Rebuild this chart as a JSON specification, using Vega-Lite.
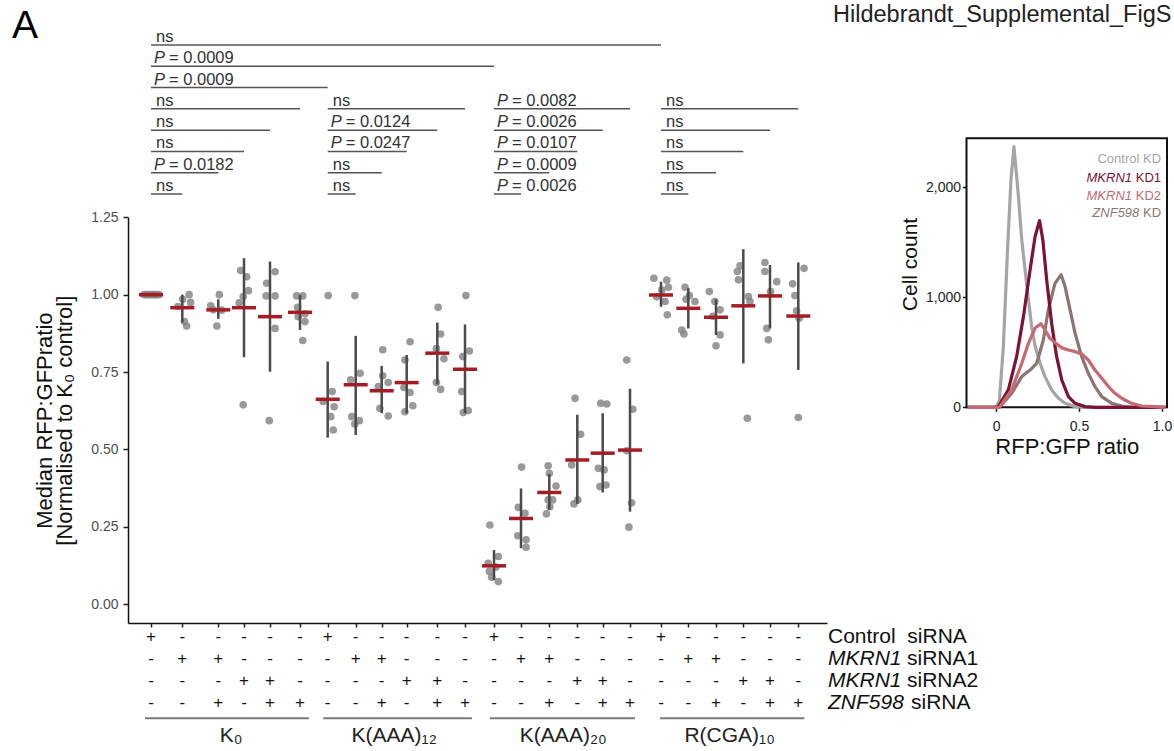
{
 "$schema": "https://vega.github.io/schema/vega-lite/v6.json",
 "width": 1046,
 "height": 623,
 "autosize": {"type": "none"},
 "padding": {"left": 128, "top": 0, "right": 0, "bottom": 128},
 "background": "white",
 "config": {"view": {"stroke": null}, "font": "Liberation Sans"},
 "datasets": {
  "cols": [
   {"x": 1, "mean": 1.0, "lo": 1.0, "hi": 1.0, "ctrl": "+", "m1": "-", "m2": "-", "znf": "-"},
   {"x": 2, "mean": 0.958, "lo": 0.910, "hi": 1.0, "ctrl": "-", "m1": "+", "m2": "-", "znf": "-"},
   {"x": 3, "mean": 0.951, "lo": 0.922, "hi": 0.985, "ctrl": "-", "m1": "+", "m2": "-", "znf": "+"},
   {"x": 4, "mean": 0.958, "lo": 0.798, "hi": 1.118, "ctrl": "-", "m1": "-", "m2": "+", "znf": "-"},
   {"x": 5, "mean": 0.929, "lo": 0.751, "hi": 1.107, "ctrl": "-", "m1": "-", "m2": "+", "znf": "+"},
   {"x": 6, "mean": 0.943, "lo": 0.886, "hi": 0.999, "ctrl": "-", "m1": "-", "m2": "-", "znf": "+"},
   {"x": 7, "mean": 0.662, "lo": 0.538, "hi": 0.784, "ctrl": "+", "m1": "-", "m2": "-", "znf": "-"},
   {"x": 8, "mean": 0.709, "lo": 0.547, "hi": 0.867, "ctrl": "-", "m1": "+", "m2": "-", "znf": "-"},
   {"x": 9, "mean": 0.690, "lo": 0.617, "hi": 0.770, "ctrl": "-", "m1": "+", "m2": "-", "znf": "+"},
   {"x": 10, "mean": 0.716, "lo": 0.617, "hi": 0.805, "ctrl": "-", "m1": "-", "m2": "+", "znf": "-"},
   {"x": 11, "mean": 0.811, "lo": 0.710, "hi": 0.910, "ctrl": "-", "m1": "-", "m2": "+", "znf": "+"},
   {"x": 12, "mean": 0.759, "lo": 0.617, "hi": 0.904, "ctrl": "-", "m1": "-", "m2": "-", "znf": "+"},
   {"x": 13, "mean": 0.124, "lo": 0.078, "hi": 0.175, "ctrl": "+", "m1": "-", "m2": "-", "znf": "-"},
   {"x": 14, "mean": 0.277, "lo": 0.181, "hi": 0.374, "ctrl": "-", "m1": "+", "m2": "-", "znf": "-"},
   {"x": 15, "mean": 0.361, "lo": 0.305, "hi": 0.421, "ctrl": "-", "m1": "+", "m2": "-", "znf": "+"},
   {"x": 16, "mean": 0.466, "lo": 0.324, "hi": 0.612, "ctrl": "-", "m1": "-", "m2": "+", "znf": "-"},
   {"x": 17, "mean": 0.488, "lo": 0.361, "hi": 0.617, "ctrl": "-", "m1": "-", "m2": "+", "znf": "+"},
   {"x": 18, "mean": 0.498, "lo": 0.299, "hi": 0.696, "ctrl": "-", "m1": "-", "m2": "-", "znf": "+"},
   {"x": 19, "mean": 0.999, "lo": 0.961, "hi": 1.042, "ctrl": "+", "m1": "-", "m2": "-", "znf": "-"},
   {"x": 20, "mean": 0.956, "lo": 0.891, "hi": 1.021, "ctrl": "-", "m1": "+", "m2": "-", "znf": "-"},
   {"x": 21, "mean": 0.927, "lo": 0.870, "hi": 0.985, "ctrl": "-", "m1": "+", "m2": "-", "znf": "+"},
   {"x": 22, "mean": 0.964, "lo": 0.778, "hi": 1.147, "ctrl": "-", "m1": "-", "m2": "+", "znf": "-"},
   {"x": 23, "mean": 0.996, "lo": 0.891, "hi": 1.096, "ctrl": "-", "m1": "-", "m2": "+", "znf": "+"},
   {"x": 24, "mean": 0.931, "lo": 0.757, "hi": 1.104, "ctrl": "-", "m1": "-", "m2": "-", "znf": "+"}
  ],
  "pts": [
   {"x": 0.757, "v": 1.0}, {"x": 0.843, "v": 1.0}, {"x": 0.93, "v": 1.0}, {"x": 1.016, "v": 1.0}, {"x": 1.096, "v": 1.0}, {"x": 1.176, "v": 1.0}, {"x": 1.256, "v": 1.0},
   {"x": 2.19, "v": 1.0}, {"x": 2.01, "v": 0.985}, {"x": 2.23, "v": 0.975}, {"x": 1.86, "v": 0.962}, {"x": 2.06, "v": 0.913}, {"x": 2.12, "v": 0.899},
   {"x": 3.04, "v": 1.0}, {"x": 2.79, "v": 0.964}, {"x": 2.86, "v": 0.951}, {"x": 3.13, "v": 0.950}, {"x": 2.96, "v": 0.899},
   {"x": 3.87, "v": 1.078}, {"x": 4.10, "v": 1.058}, {"x": 4.17, "v": 1.013}, {"x": 3.97, "v": 0.994}, {"x": 3.81, "v": 0.974}, {"x": 3.97, "v": 0.644},
   {"x": 5.17, "v": 1.074}, {"x": 4.87, "v": 1.037}, {"x": 4.85, "v": 0.996}, {"x": 5.17, "v": 0.996}, {"x": 5.17, "v": 0.891}, {"x": 4.97, "v": 0.593},
   {"x": 5.89, "v": 0.996}, {"x": 6.10, "v": 0.996}, {"x": 5.92, "v": 0.959}, {"x": 6.18, "v": 0.938}, {"x": 5.94, "v": 0.929}, {"x": 6.18, "v": 0.913}, {"x": 6.10, "v": 0.852},
   {"x": 7.02, "v": 0.997}, {"x": 7.16, "v": 0.687}, {"x": 6.84, "v": 0.655}, {"x": 7.23, "v": 0.638}, {"x": 7.11, "v": 0.606}, {"x": 7.2, "v": 0.563},
   {"x": 7.97, "v": 0.997}, {"x": 8.17, "v": 0.746}, {"x": 7.82, "v": 0.725}, {"x": 7.86, "v": 0.606}, {"x": 8.14, "v": 0.593}, {"x": 7.97, "v": 0.582},
   {"x": 9.04, "v": 0.822}, {"x": 9.04, "v": 0.738}, {"x": 8.87, "v": 0.703}, {"x": 9.26, "v": 0.716}, {"x": 8.93, "v": 0.633}, {"x": 9.26, "v": 0.608},
   {"x": 10.11, "v": 0.848}, {"x": 9.93, "v": 0.789}, {"x": 10.11, "v": 0.684}, {"x": 10.2, "v": 0.641}, {"x": 9.93, "v": 0.622}, {"x": 9.89, "v": 0.70},
   {"x": 11.03, "v": 0.959}, {"x": 11.12, "v": 0.873}, {"x": 10.97, "v": 0.826}, {"x": 11.24, "v": 0.793}, {"x": 10.97, "v": 0.716}, {"x": 11.12, "v": 0.694},
   {"x": 12.03, "v": 0.997}, {"x": 12.15, "v": 0.818}, {"x": 11.92, "v": 0.800}, {"x": 11.88, "v": 0.687}, {"x": 11.94, "v": 0.619}, {"x": 12.11, "v": 0.626},
   {"x": 12.86, "v": 0.256}, {"x": 13.16, "v": 0.154}, {"x": 12.8, "v": 0.132}, {"x": 12.84, "v": 0.106}, {"x": 12.92, "v": 0.087}, {"x": 13.16, "v": 0.073}, {"x": 13.07, "v": 0.12},
   {"x": 14.02, "v": 0.443}, {"x": 13.9, "v": 0.313}, {"x": 14.14, "v": 0.294}, {"x": 13.88, "v": 0.221}, {"x": 14.18, "v": 0.208}, {"x": 14.18, "v": 0.184},
   {"x": 14.96, "v": 0.447}, {"x": 15.0, "v": 0.423}, {"x": 15.24, "v": 0.382}, {"x": 14.96, "v": 0.337}, {"x": 15.12, "v": 0.337}, {"x": 15.02, "v": 0.315}, {"x": 14.9, "v": 0.292},
   {"x": 15.92, "v": 0.665}, {"x": 16.13, "v": 0.549}, {"x": 15.8, "v": 0.450}, {"x": 16.02, "v": 0.337}, {"x": 15.88, "v": 0.324},
   {"x": 16.92, "v": 0.649}, {"x": 17.15, "v": 0.647}, {"x": 16.83, "v": 0.439}, {"x": 17.05, "v": 0.434}, {"x": 16.89, "v": 0.380}, {"x": 17.12, "v": 0.385},
   {"x": 17.88, "v": 0.789}, {"x": 18.09, "v": 0.630}, {"x": 17.88, "v": 0.496}, {"x": 18.05, "v": 0.328}, {"x": 17.96, "v": 0.249},
   {"x": 18.77, "v": 1.053}, {"x": 19.21, "v": 1.047}, {"x": 19.27, "v": 1.024}, {"x": 19.03, "v": 1.015}, {"x": 18.86, "v": 0.993}, {"x": 19.15, "v": 0.978}, {"x": 19.23, "v": 0.935},
   {"x": 19.88, "v": 1.024}, {"x": 20.04, "v": 0.997}, {"x": 19.92, "v": 0.985}, {"x": 20.24, "v": 0.978}, {"x": 19.76, "v": 0.886}, {"x": 19.84, "v": 0.873},
   {"x": 20.76, "v": 1.010}, {"x": 20.96, "v": 0.978}, {"x": 21.15, "v": 0.951}, {"x": 21.15, "v": 0.870}, {"x": 21.0, "v": 0.835}, {"x": 20.89, "v": 0.93},
   {"x": 21.88, "v": 1.093}, {"x": 21.78, "v": 1.075}, {"x": 21.82, "v": 1.048}, {"x": 22.19, "v": 0.994}, {"x": 22.25, "v": 0.978}, {"x": 22.15, "v": 0.601},
   {"x": 22.81, "v": 1.104}, {"x": 22.81, "v": 1.075}, {"x": 23.24, "v": 1.042}, {"x": 23.02, "v": 1.010}, {"x": 22.88, "v": 0.891}, {"x": 22.94, "v": 0.854},
   {"x": 24.2, "v": 1.085}, {"x": 23.8, "v": 1.035}, {"x": 23.88, "v": 0.997}, {"x": 23.94, "v": 0.948}, {"x": 24.03, "v": 0.924}, {"x": 24.0, "v": 0.603}
  ],
  "brackets": [
   {"tier": 1, "from": 1, "to": 19, "label": "ns"},
   {"tier": 2, "from": 1, "to": 13, "label": "= 0.0009"},
   {"tier": 3, "from": 1, "to": 7, "label": "= 0.0009"},
   {"tier": 4, "from": 1, "to": 6, "label": "ns"},
   {"tier": 4, "from": 7, "to": 12, "label": "ns"},
   {"tier": 4, "from": 13, "to": 18, "label": "= 0.0082"},
   {"tier": 4, "from": 19, "to": 24, "label": "ns"},
   {"tier": 5, "from": 1, "to": 5, "label": "ns"},
   {"tier": 5, "from": 7, "to": 11, "label": "= 0.0124"},
   {"tier": 5, "from": 13, "to": 17, "label": "= 0.0026"},
   {"tier": 5, "from": 19, "to": 23, "label": "ns"},
   {"tier": 6, "from": 1, "to": 4, "label": "ns"},
   {"tier": 6, "from": 7, "to": 10, "label": "= 0.0247"},
   {"tier": 6, "from": 13, "to": 16, "label": "= 0.0107"},
   {"tier": 6, "from": 19, "to": 22, "label": "ns"},
   {"tier": 7, "from": 1, "to": 3, "label": "= 0.0182"},
   {"tier": 7, "from": 7, "to": 9, "label": "ns"},
   {"tier": 7, "from": 13, "to": 15, "label": "= 0.0009"},
   {"tier": 7, "from": 19, "to": 21, "label": "ns"},
   {"tier": 8, "from": 1, "to": 2, "label": "ns"},
   {"tier": 8, "from": 7, "to": 8, "label": "ns"},
   {"tier": 8, "from": 13, "to": 14, "label": "= 0.0026"},
   {"tier": 8, "from": 19, "to": 20, "label": "ns"}
  ],
  "groups": [
   {"label": "K₀", "from": 0.79, "to": 6.32, "center": 3.5},
   {"label": "K(AAA)₁₂", "from": 6.84, "to": 12.24, "center": 9.5},
   {"label": "K(AAA)₂₀", "from": 12.86, "to": 18.16, "center": 15.5},
   {"label": "R(CGA)₁₀", "from": 18.97, "to": 24.21, "center": 21.5}
  ],
  "rowlabels": [
   {"factor": "ctrl", "ital": "", "rest": "Control\u00a0\u00a0siRNA"},
   {"factor": "m1", "ital": "MKRN1", "rest": "siRNA1"},
   {"factor": "m2", "ital": "MKRN1", "rest": "siRNA2"},
   {"factor": "znf", "ital": "ZNF598", "rest": "siRNA"}
  ],
  "hist": [
   {"series": "Control KD", "r": -0.17, "n": 0}, {"series": "Control KD", "r": 0.0, "n": 0}, {"series": "Control KD", "r": 0.02, "n": 60}, {"series": "Control KD", "r": 0.044, "n": 552}, {"series": "Control KD", "r": 0.07, "n": 1460}, {"series": "Control KD", "r": 0.09, "n": 2067}, {"series": "Control KD", "r": 0.108, "n": 2370}, {"series": "Control KD", "r": 0.135, "n": 1915}, {"series": "Control KD", "r": 0.155, "n": 1521}, {"series": "Control KD", "r": 0.175, "n": 1248}, {"series": "Control KD", "r": 0.195, "n": 980}, {"series": "Control KD", "r": 0.215, "n": 730}, {"series": "Control KD", "r": 0.235, "n": 560}, {"series": "Control KD", "r": 0.265, "n": 400}, {"series": "Control KD", "r": 0.295, "n": 279}, {"series": "Control KD", "r": 0.335, "n": 158}, {"series": "Control KD", "r": 0.376, "n": 82}, {"series": "Control KD", "r": 0.416, "n": 36}, {"series": "Control KD", "r": 0.476, "n": 6}, {"series": "Control KD", "r": 0.55, "n": 0}, {"series": "Control KD", "r": 1.02, "n": 0},
   {"series": "ZNF598 KD", "r": -0.17, "n": 0}, {"series": "ZNF598 KD", "r": 0.02, "n": 0}, {"series": "ZNF598 KD", "r": 0.094, "n": 127}, {"series": "ZNF598 KD", "r": 0.155, "n": 279}, {"series": "ZNF598 KD", "r": 0.205, "n": 339}, {"series": "ZNF598 KD", "r": 0.245, "n": 400}, {"series": "ZNF598 KD", "r": 0.285, "n": 612}, {"series": "ZNF598 KD", "r": 0.315, "n": 885}, {"series": "ZNF598 KD", "r": 0.355, "n": 1127}, {"series": "ZNF598 KD", "r": 0.392, "n": 1205}, {"series": "ZNF598 KD", "r": 0.416, "n": 1097}, {"series": "ZNF598 KD", "r": 0.446, "n": 885}, {"series": "ZNF598 KD", "r": 0.476, "n": 673}, {"series": "ZNF598 KD", "r": 0.516, "n": 461}, {"series": "ZNF598 KD", "r": 0.556, "n": 309}, {"series": "ZNF598 KD", "r": 0.596, "n": 188}, {"series": "ZNF598 KD", "r": 0.637, "n": 97}, {"series": "ZNF598 KD", "r": 0.697, "n": 36}, {"series": "ZNF598 KD", "r": 0.757, "n": 12}, {"series": "ZNF598 KD", "r": 0.82, "n": 0}, {"series": "ZNF598 KD", "r": 1.02, "n": 0},
   {"series": "MKRN1 KD1", "r": -0.17, "n": 0}, {"series": "MKRN1 KD1", "r": 0.0, "n": 0}, {"series": "MKRN1 KD1", "r": 0.014, "n": 5}, {"series": "MKRN1 KD1", "r": 0.074, "n": 158}, {"series": "MKRN1 KD1", "r": 0.124, "n": 460}, {"series": "MKRN1 KD1", "r": 0.165, "n": 824}, {"series": "MKRN1 KD1", "r": 0.205, "n": 1248}, {"series": "MKRN1 KD1", "r": 0.235, "n": 1551}, {"series": "MKRN1 KD1", "r": 0.262, "n": 1697}, {"series": "MKRN1 KD1", "r": 0.282, "n": 1521}, {"series": "MKRN1 KD1", "r": 0.305, "n": 1158}, {"series": "MKRN1 KD1", "r": 0.335, "n": 764}, {"series": "MKRN1 KD1", "r": 0.365, "n": 460}, {"series": "MKRN1 KD1", "r": 0.396, "n": 248}, {"series": "MKRN1 KD1", "r": 0.436, "n": 97}, {"series": "MKRN1 KD1", "r": 0.476, "n": 36}, {"series": "MKRN1 KD1", "r": 0.536, "n": 6}, {"series": "MKRN1 KD1", "r": 0.6, "n": 0}, {"series": "MKRN1 KD1", "r": 1.02, "n": 0},
   {"series": "MKRN1 KD2", "r": -0.17, "n": 0}, {"series": "MKRN1 KD2", "r": 0.02, "n": 0}, {"series": "MKRN1 KD2", "r": 0.094, "n": 158}, {"series": "MKRN1 KD2", "r": 0.155, "n": 400}, {"series": "MKRN1 KD2", "r": 0.195, "n": 582}, {"series": "MKRN1 KD2", "r": 0.235, "n": 720}, {"series": "MKRN1 KD2", "r": 0.27, "n": 760}, {"series": "MKRN1 KD2", "r": 0.295, "n": 703}, {"series": "MKRN1 KD2", "r": 0.325, "n": 627}, {"series": "MKRN1 KD2", "r": 0.36, "n": 582}, {"series": "MKRN1 KD2", "r": 0.396, "n": 540}, {"series": "MKRN1 KD2", "r": 0.436, "n": 521}, {"series": "MKRN1 KD2", "r": 0.476, "n": 506}, {"series": "MKRN1 KD2", "r": 0.516, "n": 485}, {"series": "MKRN1 KD2", "r": 0.556, "n": 430}, {"series": "MKRN1 KD2", "r": 0.596, "n": 339}, {"series": "MKRN1 KD2", "r": 0.637, "n": 264}, {"series": "MKRN1 KD2", "r": 0.677, "n": 188}, {"series": "MKRN1 KD2", "r": 0.717, "n": 127}, {"series": "MKRN1 KD2", "r": 0.757, "n": 82}, {"series": "MKRN1 KD2", "r": 0.817, "n": 36}, {"series": "MKRN1 KD2", "r": 0.878, "n": 12}, {"series": "MKRN1 KD2", "r": 0.958, "n": 6}, {"series": "MKRN1 KD2", "r": 1.0, "n": 0}, {"series": "MKRN1 KD2", "r": 1.02, "n": 0}
  ]
 },
 "layer": [
  {
   "data": {"name": "pts"},
   "mark": {"type": "circle", "size": 58, "color": "#7f7f7f", "opacity": 0.8},
   "encoding": {
    "x": {"field": "x", "type": "quantitative",
          "scale": {"type": "linear", "domain": [0.2,1,2,3,4,5,6,7,8,9,10,11,12,13,14,15,16,17,18,19,20,21,22,23,24,25], "range": [0,23,54.3,90.3,116,142,172,199.7,227.7,253.7,278.7,309.3,337,366,393,421.3,449.3,474.7,502,533,560.3,588,615.3,642,670.3,699], "nice": false, "zero": false},
          "axis": {"orient": "bottom", "values": [1,2,3,4,5,6,7,8,9,10,11,12,13,14,15,16,17,18,19,20,21,22,23,24], "labels": false, "title": null, "tickSize": 4, "tickColor": "#222222", "tickWidth": 1.5, "domainColor": "#111111", "domainWidth": 1.5, "grid": false}},
    "y": {"field": "v", "type": "quantitative",
          "scale": {"domain": [-0.0607, 1.25], "range": [623, 217.3], "nice": false, "zero": false},
          "axis": {"orient": "left", "values": [0, 0.25, 0.5, 0.75, 1, 1.25], "format": ".2f", "title": ["Median RFP:GFPratio", "[Normalised to K₀ control]"], "titleFontSize": 22, "titleFontWeight": "normal", "titleColor": "#111111", "titleX": -77, "titleBaseline": "alphabetic", "titleLineHeight": 20, "titleAngle": 270, "labelFontSize": 14, "labelColor": "#4d4d4d", "labelPadding": 5, "tickSize": 5, "tickColor": "#222222", "tickWidth": 1.5, "domainColor": "#111111", "domainWidth": 1.5, "grid": false}}
   }
  },
  {
   "data": {"name": "cols"},
   "mark": {"type": "rule", "color": "#4a4a4a", "strokeWidth": 2.5},
   "encoding": {
    "x": {"field": "x", "type": "quantitative", "scale": {"type": "linear", "domain": [0.2,1,2,3,4,5,6,7,8,9,10,11,12,13,14,15,16,17,18,19,20,21,22,23,24,25], "range": [0,23,54.3,90.3,116,142,172,199.7,227.7,253.7,278.7,309.3,337,366,393,421.3,449.3,474.7,502,533,560.3,588,615.3,642,670.3,699], "nice": false, "zero": false}, "axis": null},
    "y": {"field": "lo", "type": "quantitative", "scale": {"domain": [-0.0607, 1.25], "range": [623, 217.3], "nice": false, "zero": false}, "axis": null},
    "y2": {"field": "hi"}
   }
  },
  {
   "data": {"name": "cols"},
   "mark": {"type": "tick", "orient": "horizontal", "color": "#a51d23", "opacity": 1, "thickness": 3.5, "size": 24},
   "encoding": {
    "x": {"field": "x", "type": "quantitative", "scale": {"type": "linear", "domain": [0.2,1,2,3,4,5,6,7,8,9,10,11,12,13,14,15,16,17,18,19,20,21,22,23,24,25], "range": [0,23,54.3,90.3,116,142,172,199.7,227.7,253.7,278.7,309.3,337,366,393,421.3,449.3,474.7,502,533,560.3,588,615.3,642,670.3,699], "nice": false, "zero": false}, "axis": null},
    "y": {"field": "mean", "type": "quantitative", "scale": {"domain": [-0.0607, 1.25], "range": [623, 217.3], "nice": false, "zero": false}, "axis": null}
   }
  },
  {
   "data": {"values": [{}]},
   "mark": {"type": "text", "align": "left", "baseline": "alphabetic", "fontSize": 39, "color": "#000000"},
   "encoding": {
    "x": {"datum": -3.835, "type": "quantitative", "scale": {"type": "linear", "domain": [0.2,1,2,3,4,5,6,7,8,9,10,11,12,13,14,15,16,17,18,19,20,21,22,23,24,25], "range": [0,23,54.3,90.3,116,142,172,199.7,227.7,253.7,278.7,309.3,337,366,393,421.3,449.3,474.7,502,533,560.3,588,615.3,642,670.3,699], "nice": false, "zero": false}, "axis": null},
    "y": {"datum": 1.829, "type": "quantitative", "scale": {"domain": [-0.0607, 1.25], "range": [623, 217.3], "nice": false, "zero": false}, "axis": null},
    "text": {"value": "A"}
   }
  },
  {
   "data": {"name": "brackets"},
   "mark": {"type": "rule", "color": "#555555", "strokeWidth": 1.5},
   "encoding": {
    "x": {"field": "from", "type": "quantitative", "scale": {"type": "linear", "domain": [0.2,1,2,3,4,5,6,7,8,9,10,11,12,13,14,15,16,17,18,19,20,21,22,23,24,25], "range": [0,23,54.3,90.3,116,142,172,199.7,227.7,253.7,278.7,309.3,337,366,393,421.3,449.3,474.7,502,533,560.3,588,615.3,642,670.3,699], "nice": false, "zero": false}, "axis": null},
    "x2": {"field": "to"},
    "y": {"field": "tier", "type": "quantitative", "scale": {"domain": [1, 8], "range": [45, 194], "nice": false, "zero": false}, "axis": null}
   }
  },
  {
   "data": {"name": "brackets"},
   "transform": [{"filter": "datum.label === 'ns'"}],
   "mark": {"type": "text", "align": "left", "baseline": "alphabetic", "dx": 5, "dy": -3, "fontSize": 16.5, "color": "#333333"},
   "encoding": {
    "x": {"field": "from", "type": "quantitative", "scale": {"type": "linear", "domain": [0.2,1,2,3,4,5,6,7,8,9,10,11,12,13,14,15,16,17,18,19,20,21,22,23,24,25], "range": [0,23,54.3,90.3,116,142,172,199.7,227.7,253.7,278.7,309.3,337,366,393,421.3,449.3,474.7,502,533,560.3,588,615.3,642,670.3,699], "nice": false, "zero": false}, "axis": null},
    "y": {"field": "tier", "type": "quantitative", "scale": {"domain": [1, 8], "range": [45, 194], "nice": false, "zero": false}, "axis": null},
    "text": {"field": "label"}
   }
  },
  {
   "data": {"name": "brackets"},
   "transform": [{"filter": "datum.label !== 'ns'"}],
   "mark": {"type": "text", "align": "left", "baseline": "alphabetic", "dx": 3, "dy": -3, "fontSize": 16.5, "fontStyle": "italic", "color": "#333333"},
   "encoding": {
    "x": {"field": "from", "type": "quantitative", "scale": {"type": "linear", "domain": [0.2,1,2,3,4,5,6,7,8,9,10,11,12,13,14,15,16,17,18,19,20,21,22,23,24,25], "range": [0,23,54.3,90.3,116,142,172,199.7,227.7,253.7,278.7,309.3,337,366,393,421.3,449.3,474.7,502,533,560.3,588,615.3,642,670.3,699], "nice": false, "zero": false}, "axis": null},
    "y": {"field": "tier", "type": "quantitative", "scale": {"domain": [1, 8], "range": [45, 194], "nice": false, "zero": false}, "axis": null},
    "text": {"value": "P"}
   }
  },
  {
   "data": {"name": "brackets"},
   "transform": [{"filter": "datum.label !== 'ns'"}],
   "mark": {"type": "text", "align": "left", "baseline": "alphabetic", "dx": 18, "dy": -3, "fontSize": 16.5, "color": "#333333"},
   "encoding": {
    "x": {"field": "from", "type": "quantitative", "scale": {"type": "linear", "domain": [0.2,1,2,3,4,5,6,7,8,9,10,11,12,13,14,15,16,17,18,19,20,21,22,23,24,25], "range": [0,23,54.3,90.3,116,142,172,199.7,227.7,253.7,278.7,309.3,337,366,393,421.3,449.3,474.7,502,533,560.3,588,615.3,642,670.3,699], "nice": false, "zero": false}, "axis": null},
    "y": {"field": "tier", "type": "quantitative", "scale": {"domain": [1, 8], "range": [45, 194], "nice": false, "zero": false}, "axis": null},
    "text": {"field": "label"}
   }
  },
  {
   "data": {"name": "cols"},
   "transform": [{"fold": ["ctrl", "m1", "m2", "znf"], "as": ["factor", "sign"]}],
   "mark": {"type": "text", "align": "center", "baseline": "middle", "fontSize": 17, "color": "#111111"},
   "encoding": {
    "x": {"field": "x", "type": "quantitative", "scale": {"type": "linear", "domain": [0.2,1,2,3,4,5,6,7,8,9,10,11,12,13,14,15,16,17,18,19,20,21,22,23,24,25], "range": [0,23,54.3,90.3,116,142,172,199.7,227.7,253.7,278.7,309.3,337,366,393,421.3,449.3,474.7,502,533,560.3,588,615.3,642,670.3,699], "nice": false, "zero": false}, "axis": null},
    "y": {"field": "factor", "type": "nominal", "scale": {"type": "point", "domain": ["ctrl", "m1", "m2", "znf"], "range": [637.3, 702.7], "padding": 0}, "axis": null},
    "text": {"field": "sign"}
   }
  },
  {
   "data": {"name": "groups"},
   "mark": {"type": "rule", "color": "#7a7a7a", "strokeWidth": 2, "yOffset": 15.6},
   "encoding": {
    "x": {"field": "from", "type": "quantitative", "scale": {"type": "linear", "domain": [0.2,1,2,3,4,5,6,7,8,9,10,11,12,13,14,15,16,17,18,19,20,21,22,23,24,25], "range": [0,23,54.3,90.3,116,142,172,199.7,227.7,253.7,278.7,309.3,337,366,393,421.3,449.3,474.7,502,533,560.3,588,615.3,642,670.3,699], "nice": false, "zero": false}, "axis": null},
    "x2": {"field": "to"},
    "y": {"datum": "znf", "type": "nominal", "scale": {"type": "point", "domain": ["ctrl", "m1", "m2", "znf"], "range": [637.3, 702.7], "padding": 0}, "axis": null}
   }
  },
  {
   "data": {"name": "groups"},
   "mark": {"type": "text", "align": "center", "baseline": "alphabetic", "fontSize": 21, "color": "#222222", "yOffset": 39},
   "encoding": {
    "x": {"field": "center", "type": "quantitative", "scale": {"type": "linear", "domain": [0.2,1,2,3,4,5,6,7,8,9,10,11,12,13,14,15,16,17,18,19,20,21,22,23,24,25], "range": [0,23,54.3,90.3,116,142,172,199.7,227.7,253.7,278.7,309.3,337,366,393,421.3,449.3,474.7,502,533,560.3,588,615.3,642,670.3,699], "nice": false, "zero": false}, "axis": null},
    "y": {"datum": "znf", "type": "nominal", "scale": {"type": "point", "domain": ["ctrl", "m1", "m2", "znf"], "range": [637.3, 702.7], "padding": 0}, "axis": null},
    "text": {"field": "label"}
   }
  },
  {
   "data": {"name": "rowlabels"},
   "transform": [{"filter": "datum.ital !== ''"}],
   "mark": {"type": "text", "align": "left", "baseline": "middle", "fontSize": 21, "fontStyle": "italic", "color": "#111111", "dx": 1},
   "encoding": {
    "x": {"datum": 25, "type": "quantitative", "scale": {"type": "linear", "domain": [0.2,1,2,3,4,5,6,7,8,9,10,11,12,13,14,15,16,17,18,19,20,21,22,23,24,25], "range": [0,23,54.3,90.3,116,142,172,199.7,227.7,253.7,278.7,309.3,337,366,393,421.3,449.3,474.7,502,533,560.3,588,615.3,642,670.3,699], "nice": false, "zero": false}, "axis": null},
    "y": {"field": "factor", "type": "nominal", "scale": {"type": "point", "domain": ["ctrl", "m1", "m2", "znf"], "range": [637.3, 702.7], "padding": 0}, "axis": null},
    "text": {"field": "ital"}
   }
  },
  {
   "data": {"name": "rowlabels"},
   "transform": [{"filter": "datum.ital === ''"}],
   "mark": {"type": "text", "align": "left", "baseline": "middle", "fontSize": 21, "color": "#111111", "dx": 1},
   "encoding": {
    "x": {"datum": 25, "type": "quantitative", "scale": {"type": "linear", "domain": [0.2,1,2,3,4,5,6,7,8,9,10,11,12,13,14,15,16,17,18,19,20,21,22,23,24,25], "range": [0,23,54.3,90.3,116,142,172,199.7,227.7,253.7,278.7,309.3,337,366,393,421.3,449.3,474.7,502,533,560.3,588,615.3,642,670.3,699], "nice": false, "zero": false}, "axis": null},
    "y": {"field": "factor", "type": "nominal", "scale": {"type": "point", "domain": ["ctrl", "m1", "m2", "znf"], "range": [637.3, 702.7], "padding": 0}, "axis": null},
    "text": {"field": "rest"}
   }
  },
  {
   "data": {"name": "rowlabels"},
   "transform": [{"filter": "datum.ital === 'MKRN1'"}],
   "mark": {"type": "text", "align": "left", "baseline": "middle", "fontSize": 21, "color": "#111111", "dx": 80},
   "encoding": {
    "x": {"datum": 25, "type": "quantitative", "scale": {"type": "linear", "domain": [0.2,1,2,3,4,5,6,7,8,9,10,11,12,13,14,15,16,17,18,19,20,21,22,23,24,25], "range": [0,23,54.3,90.3,116,142,172,199.7,227.7,253.7,278.7,309.3,337,366,393,421.3,449.3,474.7,502,533,560.3,588,615.3,642,670.3,699], "nice": false, "zero": false}, "axis": null},
    "y": {"field": "factor", "type": "nominal", "scale": {"type": "point", "domain": ["ctrl", "m1", "m2", "znf"], "range": [637.3, 702.7], "padding": 0}, "axis": null},
    "text": {"field": "rest"}
   }
  },
  {
   "data": {"name": "rowlabels"},
   "transform": [{"filter": "datum.ital === 'ZNF598'"}],
   "mark": {"type": "text", "align": "left", "baseline": "middle", "fontSize": 21, "color": "#111111", "dx": 84},
   "encoding": {
    "x": {"datum": 25, "type": "quantitative", "scale": {"type": "linear", "domain": [0.2,1,2,3,4,5,6,7,8,9,10,11,12,13,14,15,16,17,18,19,20,21,22,23,24,25], "range": [0,23,54.3,90.3,116,142,172,199.7,227.7,253.7,278.7,309.3,337,366,393,421.3,449.3,474.7,502,533,560.3,588,615.3,642,670.3,699], "nice": false, "zero": false}, "axis": null},
    "y": {"field": "factor", "type": "nominal", "scale": {"type": "point", "domain": ["ctrl", "m1", "m2", "znf"], "range": [637.3, 702.7], "padding": 0}, "axis": null},
    "text": {"field": "rest"}
   }
  },
  {
   "data": {"values": [{}]},
   "mark": {"type": "rect", "fill": "transparent", "stroke": "#111111", "strokeWidth": 2},
   "encoding": {
    "x": {"datum": -0.178, "type": "quantitative", "scale": {"domain": [-0.178, 1.03], "range": [838.5, 1039], "nice": false, "zero": false}, "axis": null},
    "x2": {"datum": 1.03},
    "y": {"datum": 0, "type": "quantitative", "scale": {"domain": [0, 2445], "range": [407.3, 138.3], "nice": false, "zero": false}, "axis": null},
    "y2": {"datum": 2445}
   }
  },
  {
   "data": {"name": "hist"},
   "mark": {"type": "line", "strokeWidth": 3.2, "strokeJoin": "round"},
   "encoding": {
    "x": {"field": "r", "type": "quantitative",
          "scale": {"domain": [-0.178, 1.03], "range": [838.5, 1039], "nice": false, "zero": false},
          "axis": {"orient": "bottom", "offset": -215.7, "values": [0, 0.5, 1], "labelExpr": "datum.value === 0 ? '0' : format(datum.value, '.1f')", "title": "RFP:GFP ratio", "titleFontSize": 22, "titleFontWeight": "normal", "titleColor": "#111111", "titleY": 46, "titleBaseline": "alphabetic", "labelFontSize": 14, "labelColor": "#222222", "labelPadding": 8, "labelOverlap": false, "tickSize": 4, "tickColor": "#111111", "tickWidth": 1.5, "domain": false, "grid": false}},
    "y": {"field": "n", "type": "quantitative",
          "scale": {"domain": [0, 2445], "range": [407.3, 138.3], "nice": false, "zero": false},
          "axis": {"orient": "left", "offset": -838.5, "values": [0, 1000, 2000], "labelExpr": "format(datum.value, ',.0f')", "title": "Cell count", "titleFontSize": 21, "titleFontWeight": "normal", "titleColor": "#111111", "titleX": -50, "titleY": 264, "titleBaseline": "alphabetic", "titleAngle": 270, "labelFontSize": 14, "labelColor": "#222222", "labelPadding": 2, "labelOverlap": false, "tickSize": 4, "tickColor": "#111111", "tickWidth": 1.5, "domain": false, "grid": false}},
    "color": {"field": "series", "type": "nominal", "scale": {"domain": ["Control KD", "ZNF598 KD", "MKRN1 KD1", "MKRN1 KD2"], "range": ["#a5a5a5", "#8c7474", "#7d1232", "#c66a72"]}, "legend": null}
   }
  },
  {
   "data": {"values": [{"t": "Control KD"}]},
   "mark": {"type": "text", "align": "right", "baseline": "alphabetic", "fontSize": 13, "color": "#a5a5a5"},
   "encoding": {"x": {"datum": 0.994, "type": "quantitative", "scale": {"domain": [-0.178, 1.03], "range": [838.5, 1039], "nice": false, "zero": false}, "axis": null}, "y": {"datum": 2218, "type": "quantitative", "scale": {"domain": [0, 2445], "range": [407.3, 138.3], "nice": false, "zero": false}, "axis": null}, "text": {"field": "t"}}
  },
  {
   "data": {"values": [{}]},
   "mark": {"type": "text", "align": "right", "baseline": "alphabetic", "fontSize": 13, "color": "#7d1232"},
   "encoding": {"x": {"datum": 0.994, "type": "quantitative", "scale": {"domain": [-0.178, 1.03], "range": [838.5, 1039], "nice": false, "zero": false}, "axis": null}, "y": {"datum": 2051, "type": "quantitative", "scale": {"domain": [0, 2445], "range": [407.3, 138.3], "nice": false, "zero": false}, "axis": null}, "text": {"value": "KD1"}}
  },
  {
   "data": {"values": [{}]},
   "mark": {"type": "text", "align": "right", "baseline": "alphabetic", "fontSize": 13, "fontStyle": "italic", "color": "#7d1232", "dx": -29},
   "encoding": {"x": {"datum": 0.994, "type": "quantitative", "scale": {"domain": [-0.178, 1.03], "range": [838.5, 1039], "nice": false, "zero": false}, "axis": null}, "y": {"datum": 2051, "type": "quantitative", "scale": {"domain": [0, 2445], "range": [407.3, 138.3], "nice": false, "zero": false}, "axis": null}, "text": {"value": "MKRN1"}}
  },
  {
   "data": {"values": [{}]},
   "mark": {"type": "text", "align": "right", "baseline": "alphabetic", "fontSize": 13, "color": "#c66a72"},
   "encoding": {"x": {"datum": 0.994, "type": "quantitative", "scale": {"domain": [-0.178, 1.03], "range": [838.5, 1039], "nice": false, "zero": false}, "axis": null}, "y": {"datum": 1885, "type": "quantitative", "scale": {"domain": [0, 2445], "range": [407.3, 138.3], "nice": false, "zero": false}, "axis": null}, "text": {"value": "KD2"}}
  },
  {
   "data": {"values": [{}]},
   "mark": {"type": "text", "align": "right", "baseline": "alphabetic", "fontSize": 13, "fontStyle": "italic", "color": "#c66a72", "dx": -29},
   "encoding": {"x": {"datum": 0.994, "type": "quantitative", "scale": {"domain": [-0.178, 1.03], "range": [838.5, 1039], "nice": false, "zero": false}, "axis": null}, "y": {"datum": 1885, "type": "quantitative", "scale": {"domain": [0, 2445], "range": [407.3, 138.3], "nice": false, "zero": false}, "axis": null}, "text": {"value": "MKRN1"}}
  },
  {
   "data": {"values": [{}]},
   "mark": {"type": "text", "align": "right", "baseline": "alphabetic", "fontSize": 13, "color": "#8c7474"},
   "encoding": {"x": {"datum": 0.994, "type": "quantitative", "scale": {"domain": [-0.178, 1.03], "range": [838.5, 1039], "nice": false, "zero": false}, "axis": null}, "y": {"datum": 1727, "type": "quantitative", "scale": {"domain": [0, 2445], "range": [407.3, 138.3], "nice": false, "zero": false}, "axis": null}, "text": {"value": "KD"}}
  },
  {
   "data": {"values": [{}]},
   "mark": {"type": "text", "align": "right", "baseline": "alphabetic", "fontSize": 13, "fontStyle": "italic", "color": "#8c7474", "dx": -21.7},
   "encoding": {"x": {"datum": 0.994, "type": "quantitative", "scale": {"domain": [-0.178, 1.03], "range": [838.5, 1039], "nice": false, "zero": false}, "axis": null}, "y": {"datum": 1727, "type": "quantitative", "scale": {"domain": [0, 2445], "range": [407.3, 138.3], "nice": false, "zero": false}, "axis": null}, "text": {"value": "ZNF598"}}
  },
  {
   "data": {"values": [{}]},
   "mark": {"type": "text", "align": "left", "baseline": "alphabetic", "fontSize": 23.5, "color": "#222222"},
   "encoding": {"x": {"datum": -0.982, "type": "quantitative", "scale": {"domain": [-0.178, 1.03], "range": [838.5, 1039], "nice": false, "zero": false}, "axis": null}, "y": {"datum": 3506, "type": "quantitative", "scale": {"domain": [0, 2445], "range": [407.3, 138.3], "nice": false, "zero": false}, "axis": null}, "text": {"value": "Hildebrandt_Supplemental_FigS"}}
  }
 ],
 "resolve": {"scale": {"x": "independent", "y": "independent", "color": "independent"}}
}
